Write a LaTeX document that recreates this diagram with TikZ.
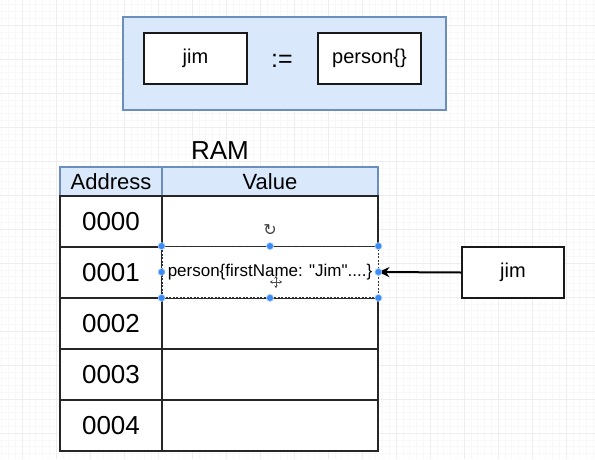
\documentclass[tikz,border=0pt]{standalone}
\usepackage{fontspec}
\setmainfont{Liberation Sans}[Ligatures=TeXOff]
\newfontfamily\symfont{DejaVu Sans}
\usetikzlibrary{arrows.meta}
\definecolor{boxblue}{HTML}{DAE8FC}
\definecolor{edgeblue}{HTML}{6C8EBF}
\definecolor{handle}{HTML}{3A8BF5}
\definecolor{minorgrid}{HTML}{F8F8F8}
\definecolor{majorgrid}{HTML}{EEEEEE}
\tikzset{
  fs/.style={font=\fontsize{#1}{#1}\selectfont},
  plainbox/.style={draw=black!90, line width=1.3pt, fill=white, inner sep=0pt, text=black},
  headcell/.style={draw=edgeblue, line width=1.3pt, fill=boxblue, inner sep=0pt, fs=22, minimum height=29pt},
  addrcell/.style={draw=black!85, line width=1.4pt, fill=white, inner sep=0pt, fs=26, minimum width=102pt, minimum height=51pt},
  valcell/.style={draw=black!85, line width=1.4pt, fill=white, inner sep=0pt, minimum width=216pt, minimum height=51pt},
  selcell/.style={draw=black!80, line width=0.8pt, dash pattern=on 2pt off 1.5pt, fill=white, inner sep=0pt, minimum width=216pt, minimum height=51pt, fs=17},
  hdl/.style={circle, fill=handle, draw=handle!40, line width=0.6pt, inner sep=0pt, minimum size=7pt},
}
\begin{document}
\begin{tikzpicture}[x=1pt,y=-1pt]
\useasboundingbox (0,0) rectangle (595,459);
\fill[white] (0,0) rectangle (595,459);
% grid
\foreach \i in {0,...,88} {\draw[minorgrid, line width=0.5pt] ({1.6+6.8*\i},0) -- ({1.6+6.8*\i},459);}
\foreach \i in {0,...,68} {\draw[minorgrid, line width=0.5pt] (0,{4.6+6.8*\i}) -- (595,{4.6+6.8*\i});}
\foreach \i in {0,...,17} {\draw[majorgrid, line width=0.7pt] ({22+34*\i},0) -- ({22+34*\i},459);}
\foreach \i in {0,...,13} {\draw[majorgrid, line width=0.7pt] (0,{25+34*\i}) -- (595,{25+34*\i});}

% top assignment box
\node[draw=edgeblue, line width=1.5pt, fill=boxblue, minimum width=323pt, minimum height=93pt, inner sep=0pt] (frame) at (284.5,63.5) {};
\node[plainbox, minimum width=103pt, minimum height=51pt, fs=20] (jimtop) at (195.5,58.5) {jim};
\node[fs=25, inner sep=0pt] (assign) at (282,61) {:=};
\node[plainbox, minimum width=103pt, minimum height=51pt, fs=20] (persontop) at (369.5,58.5) {person\{\}};

% RAM table
\node[fs=26, inner sep=0pt] (ram) at (220,151) {RAM};
\node[headcell, minimum width=102pt] (haddr) at (111,181.5) {Address};
\node[headcell, minimum width=216pt] (hval) at (270,181.5) {Value};

\node[addrcell] (a0) at (111,221.5) {0000};
\node[addrcell] (a1) at (111,272.5) {0001};
\node[addrcell] (a2) at (111,323.5) {0002};
\node[addrcell] (a3) at (111,374.5) {0003};
\node[addrcell] (a4) at (111,425.5) {0004};

\node[valcell] (v0) at (270,221.5) {};
\node[valcell] (v2) at (270,323.5) {};
\node[valcell] (v3) at (270,374.5) {};
\node[valcell] (v4) at (270,425.5) {};
\node[selcell] (v1) at (270,272) {person\{firstName: "Jim"....\}};

% pointer
\node[plainbox, minimum width=102pt, minimum height=51pt, fs=20] (jimref) at (513,272.5) {jim};
\draw[line width=2pt, -{Stealth[length=11pt, width=10pt, inset=3.5pt]}] (jimref.west) -- (v1.east);

% selection handles
\foreach \a in {north west, north, north east, west, east, south west, south, south east}
  {\node[hdl] at (v1.\a) {};}
\node[font=\symfont\fontsize{16}{16}\selectfont, text=black!75, inner sep=0pt] (rot) at (270,230) {↻};
\coordinate (cur) at (276,282);
\begin{scope}[line width=1pt, black!70, -{Stealth[length=2.5pt,width=3.5pt]}]
  \draw (cur) -- ++(0,-6);
  \draw (cur) -- ++(0,6);
  \draw (cur) -- ++(-6,0);
  \draw (cur) -- ++(6,0);
\end{scope}
\end{tikzpicture}
\end{document}
